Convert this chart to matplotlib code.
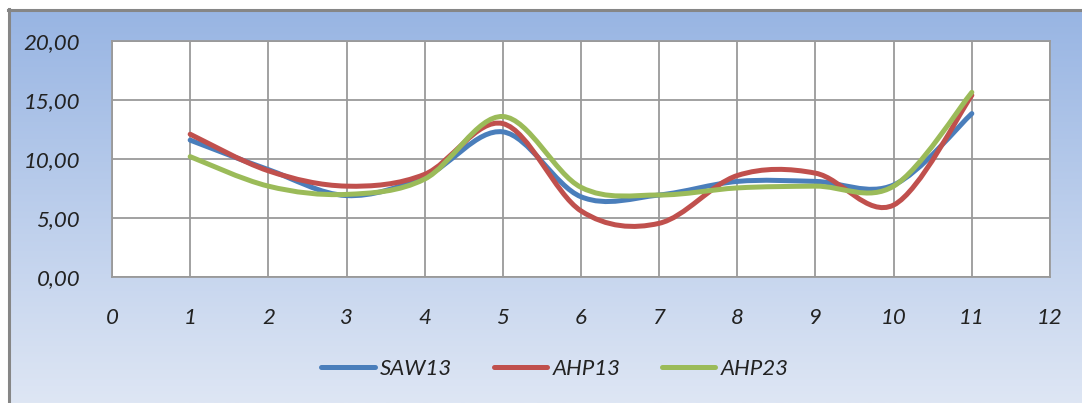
import numpy as np
import matplotlib
matplotlib.use("Agg")
import matplotlib.pyplot as plt
from matplotlib.path import Path
from matplotlib.patches import PathPatch
from matplotlib.lines import Line2D

# ---- data ----
x_vals = [1, 2, 3, 4, 5, 6, 7, 8, 9, 10, 11]
saw13 = [11.6, 9.1, 6.9, 8.5, 12.3, 6.8, 6.95, 8.1, 8.1, 7.8, 13.85]
ahp13 = [12.1, 9.0, 7.7, 8.7, 13.0, 5.6, 4.55, 8.6, 8.8, 6.1, 15.4]
ahp23 = [10.2, 7.7, 7.0, 8.3, 13.6, 7.6, 6.95, 7.55, 7.7, 7.7, 15.65]
series_names = ["SAW13", "AHP13", "AHP23"]
series_colors = ["#4A7EBB", "#C0504D", "#9BBB59"]
x_ticks = list(range(0, 13))
y_ticks = [0, 5, 10, 15, 20]
y_tick_labels = ["0,00", "5,00", "10,00", "15,00", "20,00"]

plt.rcParams['font.family'] = ['Lato', 'DejaVu Sans']

W, H = 1082, 403
fig = plt.figure(figsize=(W / 100, H / 100), dpi=100)
fig.patch.set_facecolor("white")

# gradient background
bg = fig.add_axes([9 / W, 0, 1 - 9 / W, 1 - 10 / H], zorder=0)
top = np.array([152, 181, 227]) / 255
bot = np.array([222, 230, 244]) / 255
t = np.linspace(0, 1, 256)[:, None]
grad = top[None, :] * (1 - t) + bot[None, :] * t
bg.imshow(grad[:, None, :], aspect="auto", extent=[0, 1, 0, 1])
bg.set_xlim(0, 1)
bg.set_ylim(0, 1)
bg.axis("off")
# border lines (left and top)
fig.add_artist(Line2D([9 / W, 9 / W], [0, 1 - 9 / H], color="#868686", lw=2.2,
                      transform=fig.transFigure))
fig.add_artist(Line2D([8 / W, 1], [1 - 10 / H, 1 - 10 / H], color="#868686", lw=2.2,
                      transform=fig.transFigure))

ax = fig.add_axes([112 / W, 1 - 277 / H, (1050 - 112) / W, (277 - 41) / H], zorder=2)
ax.set_facecolor("white")
ax.set_xlim(0, 12)
ax.set_ylim(0, 20)
ax.set_xticks(x_ticks)
ax.set_yticks(y_ticks)
ax.set_yticklabels(y_tick_labels)
ax.grid(True, color="#9A9A9A", lw=1.3)
ax.set_axisbelow(True)
for s in ax.spines.values():
    s.set_color("#9A9A9A")
    s.set_linewidth(1.3)
ax.tick_params(length=0, labelsize=16, colors="#222222", pad=22)
ax.tick_params(axis="y", pad=23)
for lab in ax.get_xticklabels() + ax.get_yticklabels():
    lab.set_fontstyle("italic")


def smooth_path(xs, ys):
    pts = np.column_stack([xs, ys]).astype(float)
    n = len(pts)
    verts = [pts[0]]
    codes = [Path.MOVETO]
    for i in range(n - 1):
        p0 = pts[max(i - 1, 0)]
        p1 = pts[i]
        p2 = pts[i + 1]
        p3 = pts[min(i + 2, n - 1)]
        c1 = p1 + (p2 - p0) / 6
        c2 = p2 - (p3 - p1) / 6
        verts += [c1, c2, p2]
        codes += [Path.CURVE4] * 3
    return Path(verts, codes)


handles = []
for ys, name, col in zip([saw13, ahp13, ahp23], series_names, series_colors):
    patch = PathPatch(smooth_path(x_vals, ys), fill=False, edgecolor=col, lw=3.6,
                      capstyle="round", joinstyle="round", zorder=3)
    ax.add_patch(patch)
    handles.append(Line2D([], [], color=col, lw=3.6, solid_capstyle="round", label=name))

leg = fig.legend(handles=handles, loc="center", bbox_to_anchor=(555 / W, 1 - 369 / H),
                 ncol=3, frameon=False, handlelength=2.4, handletextpad=0.25,
                 columnspacing=1.85, prop={"size": 16, "style": "italic"})
for txt in leg.get_texts():
    txt.set_color("#222222")

fig.savefig("out.png", dpi=100)
